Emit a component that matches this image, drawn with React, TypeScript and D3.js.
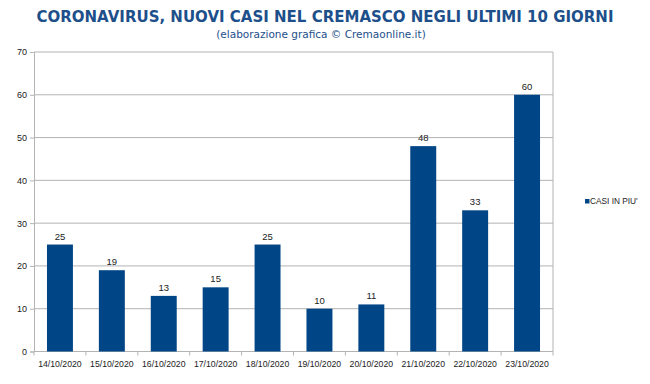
import React, { useEffect, useRef } from 'react';
import * as d3 from 'd3';

const dates = ['14/10/2020', '15/10/2020', '16/10/2020', '17/10/2020', '18/10/2020', '19/10/2020', '20/10/2020', '21/10/2020', '22/10/2020', '23/10/2020'];
const casi = [25, 19, 13, 15, 25, 10, 11, 48, 33, 60];
const yTicks = [0, 10, 20, 30, 40, 50, 60, 70];

const App = () => {
    const svgRef = useRef(null);

    useEffect(() => {
        const svg = d3.select(svgRef.current);
        svg.selectAll('*').remove();

        const left = 34, right = 553, top = 52, bottom = 351.5;
        const font = 'Liberation Sans, Arial, sans-serif';

        const x = d3.scaleBand()
            .domain(dates)
            .range([left, right])
            .paddingInner(0.5)
            .paddingOuter(0.25);
        const y = d3.scaleLinear().domain([0, 70]).range([bottom, top]);

        // titolo
        svg.append('text')
            .attr('x', 325).attr('y', 22)
            .attr('text-anchor', 'middle')
            .attr('font-family', 'Verdana, DejaVu Sans, sans-serif')
            .attr('font-weight', 'bold')
            .attr('font-size', 15)
            .attr('fill', '#1d4f8b')
            .text('CORONAVIRUS, NUOVI CASI NEL CREMASCO NEGLI ULTIMI 10 GIORNI');
        svg.append('text')
            .attr('x', 321).attr('y', 38)
            .attr('text-anchor', 'middle')
            .attr('font-family', 'Verdana, DejaVu Sans, sans-serif')
            .attr('font-size', 10.5)
            .attr('fill', '#1d4f8b')
            .text('(elaborazione grafica © Cremaonline.it)');

        // griglia
        svg.append('g')
            .selectAll('line')
            .data(yTicks.filter(t => t > 0))
            .enter()
            .append('line')
            .attr('x1', left).attr('x2', right)
            .attr('y1', d => y(d)).attr('y2', d => y(d))
            .attr('stroke', '#b3b3b3').attr('stroke-width', 1);
        svg.append('line')
            .attr('x1', right).attr('x2', right)
            .attr('y1', top).attr('y2', bottom)
            .attr('stroke', '#b3b3b3');

        // assi
        const yAxis = svg.append('g')
            .attr('transform', `translate(${left},0)`)
            .call(d3.axisLeft(y).tickValues(yTicks).tickSize(4).tickPadding(3));
        yAxis.select('.domain').attr('stroke', '#b3b3b3');
        yAxis.selectAll('line').attr('stroke', '#b3b3b3');
        yAxis.selectAll('text').attr('font-family', font).attr('font-size', 9).attr('fill', '#222');

        const step = x.step();
        const bounds = d3.range(dates.length + 1).map(i => left + i * step);
        svg.append('line')
            .attr('x1', left).attr('x2', right)
            .attr('y1', bottom).attr('y2', bottom)
            .attr('stroke', '#b3b3b3');
        svg.append('g')
            .selectAll('line')
            .data(bounds)
            .enter()
            .append('line')
            .attr('x1', d => d).attr('x2', d => d)
            .attr('y1', bottom).attr('y2', bottom + 4)
            .attr('stroke', '#b3b3b3');
        svg.append('g')
            .selectAll('text')
            .data(dates)
            .enter()
            .append('text')
            .attr('x', d => x(d) + x.bandwidth() / 2)
            .attr('y', bottom + 15.5)
            .attr('text-anchor', 'middle')
            .attr('font-family', font)
            .attr('font-size', 8.7)
            .attr('fill', '#222')
            .text(d => d);

        // barre
        svg.append('g')
            .selectAll('rect')
            .data(casi)
            .enter()
            .append('rect')
            .attr('x', (d, i) => x(dates[i]))
            .attr('y', d => y(d))
            .attr('width', x.bandwidth())
            .attr('height', d => y(0) - y(d))
            .attr('fill', '#004586');
        svg.append('g')
            .selectAll('text')
            .data(casi)
            .enter()
            .append('text')
            .attr('x', (d, i) => x(dates[i]) + x.bandwidth() / 2)
            .attr('y', d => y(d) - 5)
            .attr('text-anchor', 'middle')
            .attr('font-family', font)
            .attr('font-size', 9.5)
            .attr('fill', '#222')
            .text(d => d);

        // legenda
        svg.append('rect')
            .attr('x', 585).attr('y', 199)
            .attr('width', 4.5).attr('height', 4.5)
            .attr('fill', '#004586');
        svg.append('text')
            .attr('x', 590).attr('y', 203.5)
            .attr('font-family', font)
            .attr('font-size', 8.3)
            .attr('fill', '#222')
            .text("CASI IN PIU'");
    }, []);

    return (
        <svg ref={svgRef} width={650} height={384} style={{ position: 'absolute', left: 0, top: 0, background: '#fff' }}></svg>
    );
};

export default App;
